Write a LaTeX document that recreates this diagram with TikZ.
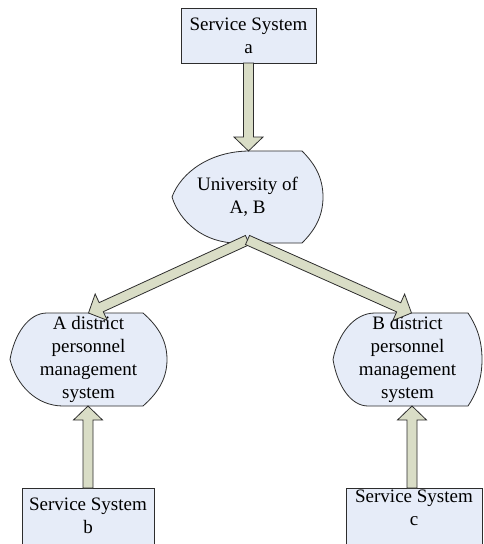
\documentclass[tikz,border=0pt]{standalone}
\usepackage{fontspec}
\setmainfont{Liberation Serif}
\usetikzlibrary{calc}
\pgfdeclarelayer{background}
\pgfsetlayers{background,main}
\definecolor{boxfill}{RGB}{230,236,248}
\definecolor{arrfill}{RGB}{217,221,198}
\definecolor{edgecol}{RGB}{45,45,45}
\tikzset{
  txt/.style={font=\fontsize{19}{23}\selectfont, align=center, text=black},
  boxst/.style={draw=edgecol, fill=boxfill, line width=0.8pt, inner sep=0pt, outer sep=0pt},
  dispnode/.style={txt, inner sep=0pt, outer sep=0pt},
  dispst/.style={draw=edgecol, fill=boxfill, line width=0.8pt},
  fatarr/.style={draw=edgecol, fill=arrfill, line width=0.8pt, line join=miter},
}
% block arrow from #1 to #2 (tip at #2)
\newcommand\fatarrow[2]{%
  \coordinate (fah) at ($(#2)!14pt!(#1)$);
  \draw[fatarr] ($(#1)!5pt!90:(#2)$) -- ($(fah)!5pt!90:(#2)$) -- ($(fah)!14.5pt!90:(#2)$) -- (#2)
    -- ($(fah)!14.5pt!-90:(#2)$) -- ($(fah)!5pt!-90:(#2)$) -- ($(#1)!5pt!-90:(#2)$) -- cycle;}
% display shape drawn behind node #1; #2 top flat start, #3 bottom flat start (from left), #4 flat end (from right)
\newcommand\dispshape[4]{%
  \begin{pgfonlayer}{background}
  \path[dispst] let \p1=(#1.west), \p2=(#1.north east), \p3=(#1.south west) in
    (\p1) .. controls (\x1+0.12*#2pt, 0.45*\y1+0.55*\y2) and (\x1+0.5*#2pt, \y2) .. (\x1+#2pt, \y2)
    -- (\x2-#4pt, \y2)
    .. controls (\x2-0.45*#4pt, 0.75*\y2+0.25*\y1) and (\x2, 0.45*\y2+0.55*\y1) .. (\x2, \y1)
    .. controls (\x2, 0.45*\y3+0.55*\y1) and (\x2-0.45*#4pt, 0.75*\y3+0.25*\y1) .. (\x2-#4pt, \y3)
    -- (\x1+#3pt, \y3)
    .. controls (\x1+0.5*#3pt, \y3) and (\x1+0.12*#3pt, 0.45*\y1+0.55*\y3) .. (\p1) -- cycle;
  \end{pgfonlayer}}
\begin{document}
\begin{tikzpicture}[x=1pt, y=-1pt]
\begin{pgfonlayer}{background}
  \fill[white] (0,0) rectangle (483,544);
\end{pgfonlayer}
\useasboundingbox (0,0) rectangle (483,544);

% boxes
\node[boxst, txt, minimum width=135pt, minimum height=55pt] (a) at (248.5,35.5) {Service System\\a};
\node[boxst, minimum width=132pt, minimum height=80pt, anchor=north,
      label={[txt, anchor=north, inner sep=0pt, yshift=-10pt]north:{Service System\\b}}] (b) at (88,488) {};
\node[boxst, minimum width=136pt, minimum height=80pt, anchor=north,
      label={[txt, anchor=north, inner sep=0pt, yshift=-2pt]north:{Service System\\c}}] (c) at (414,488) {};

% display shapes
\node[dispnode, minimum width=151pt, minimum height=92pt] (U) at (247.5,197) {University of\\A, B};
\dispshape{U}{78}{65}{21}
\node[dispnode, minimum width=157pt, minimum height=93pt] (A) at (88.5,359.5) {A district\\personnel\\management\\system};
\dispshape{A}{37}{53}{24}
\node[dispnode, minimum width=149pt, minimum height=93pt] (B) at (407.5,359.5) {B district\\personnel\\management\\system};
\dispshape{B}{42}{35}{14}

% connectors
\coordinate (aU) at (a.south |- U.north);
\fatarrow{a.south}{aU}
\coordinate (Ubot) at ([yshift=3pt]U.south);
\coordinate (Btop) at ([xshift=4pt]B.north);
\fatarrow{Ubot}{A.north}
\fatarrow{Ubot}{Btop}
\coordinate (bA) at (b.north |- A.south);
\fatarrow{b.north}{bA}
\coordinate (cTop) at ([xshift=-2pt]c.north);
\coordinate (cB) at (cTop |- B.south);
\fatarrow{cTop}{cB}
\end{tikzpicture}
\end{document}
